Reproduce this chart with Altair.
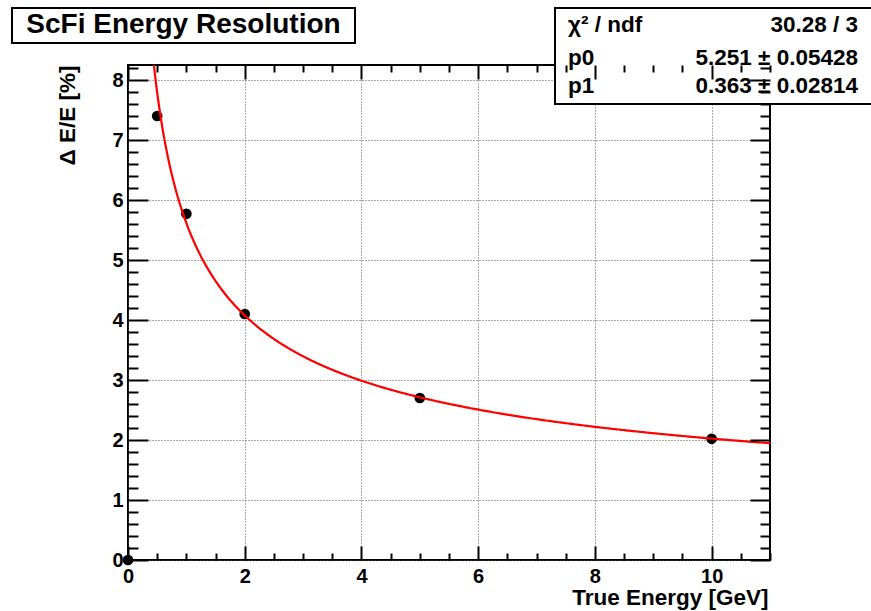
import altair as alt
import numpy as np
import pandas as pd

# Measured resolution points
energy = [0.0, 0.5, 1.0, 2.0, 5.0, 10.0]
resolution = [0.0, 7.40, 5.77, 4.10, 2.70, 2.02]

# Fit parameters: dE/E = p0/sqrt(E) + p1
p0, p0_err = 5.251, 0.05428
p1, p1_err = 0.363, 0.02814
chi2, ndf = 30.28, 3

stat_names = ["χ² / ndf", "p0", "p1"]
stat_values = [f"{chi2:.2f} / {ndf}", f"{p0} ± {p0_err}", f"{p1} ± {p1_err}"]

x_ticks = [0, 2, 4, 6, 8, 10]
y_ticks = [0, 1, 2, 3, 4, 5, 6, 7, 8]
x_minor = [0.5, 1, 1.5, 2.5, 3, 3.5, 4.5, 5, 5.5, 6.5, 7, 7.5, 8.5, 9, 9.5, 10.5, 11]
y_minor = [round(v, 1) for v in np.arange(0.2, 8.25, 0.2) if abs(v - round(v)) > 1e-6]

W, H = 642, 495
XMAX, YMAX = 11.0, 8.25
FONT = "Liberation Sans"

pts = pd.DataFrame({"E": energy, "R": resolution})
e_fit = np.linspace(0.3, XMAX, 400)
fit = pd.DataFrame({"E": e_fit, "R": p0 / np.sqrt(e_fit) + p1})

xs = alt.Scale(domain=[0, XMAX], nice=False, zero=False)
ys = alt.Scale(domain=[0, YMAX], nice=False, zero=False)

# Labels, titles and dotted grid
x_axis = alt.Axis(
    orient="bottom", values=x_ticks, format="d", title="True Energy [GeV]", grid=True,
    ticks=False, domain=False, labelFlush=False, labelOverlap=False,
    labelFont=FONT, labelFontWeight="bold", labelFontSize=20, labelColor="black",
    labelPadding=6, titleFont=FONT, titleFontWeight="bold", titleFontSize=22.5,
    titleColor="black", titleAnchor="end", titleAlign="right", titleX=W - 2,
    titleY=44, titleBaseline="alphabetic",
    gridColor="#555555", gridDash=[1, 2], gridWidth=1,
)
y_axis = alt.Axis(
    orient="left", values=y_ticks, format="d", title="Δ E/E [%]", grid=True,
    ticks=False, domain=False, labelFlush=False, labelOverlap=False,
    labelFont=FONT, labelFontWeight="bold", labelFontSize=20, labelColor="black",
    labelPadding=5, titleFont=FONT, titleFontWeight="bold", titleFontSize=22.5,
    titleColor="black", titleAngle=-90, titleAlign="right", titleX=-54, titleY=0,
    titleBaseline="alphabetic",
    gridColor="#555555", gridDash=[1, 2], gridWidth=1,
)


def tick_axis(orient, values, length):
    # tick-only axis pulled inside the frame so its ticks point inward
    return alt.Axis(
        orient=orient, values=values, title=None, labels=False, grid=False,
        domain=False, ticks=True, tickSize=length, tickWidth=2, tickColor="black",
        offset=-length, zindex=1,
    )


points = alt.Chart(pts).mark_point(filled=True, color="black", size=115, opacity=1).encode(
    x=alt.X("E:Q", scale=xs, axis=x_axis),
    y=alt.Y("R:Q", scale=ys, axis=y_axis),
)

fit_line = alt.Chart(fit).mark_line(color="#ff0000", strokeWidth=2.2, clip=True).encode(
    x=alt.X("E:Q", scale=xs, axis=None), y=alt.Y("R:Q", scale=ys, axis=None)
)


def tick_layer(x_orient, x_vals, x_len, y_orient, y_vals, y_len):
    return alt.Chart(pts).mark_point(opacity=0).encode(
        x=alt.X("E:Q", scale=xs, axis=tick_axis(x_orient, x_vals, x_len)),
        y=alt.Y("R:Q", scale=ys, axis=tick_axis(y_orient, y_vals, y_len)),
    )


ticks_major_bl = tick_layer("bottom", x_ticks, 14, "left", y_ticks, 20)
ticks_minor_bl = tick_layer("bottom", x_minor, 7, "left", y_minor, 10)
ticks_major_tr = tick_layer("top", x_ticks, 14, "right", y_ticks, 20)
ticks_minor_tr = tick_layer("top", x_minor, 7, "right", y_minor, 10)

one = pd.DataFrame({"k": [0]})

# Title box
title_box = alt.Chart(one).mark_rect(fill="white", stroke="black", strokeWidth=2).encode(
    x=alt.value(-116), x2=alt.value(227), y=alt.value(-57), y2=alt.value(-22))
title_text = alt.Chart(one).mark_text(
    text="ScFi Energy Resolution", font=FONT, fontWeight="bold", fontSize=28,
    align="center", baseline="alphabetic", color="black",
).encode(x=alt.value(55.5), y=alt.value(-32))

# Fit statistics box
stats_box = alt.Chart(one).mark_rect(fill="white", stroke="black", strokeWidth=2).encode(
    x=alt.value(427), x2=alt.value(760), y=alt.value(-57), y2=alt.value(39))
stat_rows = [-33, 0, 28]
stat_layers = []
for name, value, ry in zip(stat_names, stat_values, stat_rows):
    stat_layers.append(alt.Chart(one).mark_text(
        text=name, font=FONT, fontWeight="bold", fontSize=22.5, align="left",
        baseline="alphabetic", color="black").encode(x=alt.value(440), y=alt.value(ry)))
    stat_layers.append(alt.Chart(one).mark_text(
        text=value, font=FONT, fontWeight="bold", fontSize=22.5, align="right",
        baseline="alphabetic", color="black").encode(x=alt.value(730), y=alt.value(ry)))

chart = alt.layer(
    points, ticks_major_bl, ticks_minor_bl, ticks_major_tr, ticks_minor_tr, fit_line,
    title_box, title_text, stats_box, *stat_layers
).resolve_axis(x="independent", y="independent").properties(
    width=W, height=H,
    autosize=alt.AutoSizeParams(type="none"),
    padding={"left": 128, "top": 65, "right": 101, "bottom": 51},
    background="white",
).configure_view(stroke="black", strokeWidth=2)

chart.save("out.html", embed_options={"renderer": "svg", "actions": False})
